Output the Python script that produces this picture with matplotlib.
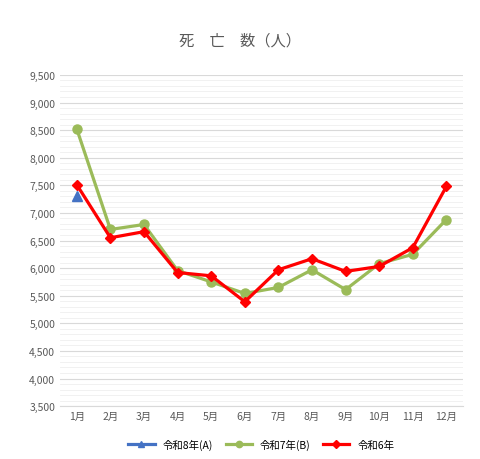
import matplotlib
matplotlib.use("Agg")
import matplotlib.pyplot as plt
from matplotlib.ticker import MultipleLocator, FuncFormatter

plt.rcParams['font.family'] = ['Noto Sans CJK JP', 'DejaVu Sans']

months = ["1月","2月","3月","4月","5月","6月","7月","8月","9月","10月","11月","12月"]
r8 = [7300]
r7 = [8520,6700,6790,5955,5750,5540,5650,5970,5610,6080,6250,6880]
r6 = [7510,6550,6660,5920,5860,5390,5970,6170,5940,6030,6370,7480]

fig = plt.figure(figsize=(4.8,4.6), dpi=100)
ax = fig.add_axes([0.125, 0.115, 0.84, 0.72])
x = list(range(12))
ax.plot(x, r7, color='#9BBB59', lw=2.3, marker='o', ms=6.5, label='令和7年(B)', zorder=3)
ax.plot(x, r6, color='#FF0000', lw=2.3, marker='D', ms=5.5, label='令和6年', zorder=4)
ax.plot(x[:1], r8, color='#4472C4', lw=2.3, marker='^', ms=6.5, label='令和8年(A)', zorder=5)
ax.set_ylim(3500, 9500)
ax.set_xlim(-0.5, 11.5)
ax.yaxis.set_major_locator(MultipleLocator(500))
ax.yaxis.set_minor_locator(MultipleLocator(100))
ax.yaxis.set_major_formatter(FuncFormatter(lambda v,p: f"{int(v):,}"))
ax.grid(axis='y', which='major', color='#D9D9D9', lw=0.8)
ax.grid(axis='y', which='minor', color='#EFEFEF', lw=0.6)
ax.set_axisbelow(True)
ax.set_xticks(x); ax.set_xticklabels(months)
ax.tick_params(labelsize=7.5, colors='#595959', length=0, which='both')
for s in ['top','right','left']:
    ax.spines[s].set_visible(False)
ax.spines['bottom'].set_color('#D9D9D9')
fig.suptitle('死　亡　数（人）', y=0.93, fontsize=11, color='#595959')
h, l = ax.get_legend_handles_labels()
order = [2,0,1]
ax.legend([h[i] for i in order], [l[i] for i in order], loc='upper center',
          bbox_to_anchor=(0.5, -0.07), ncol=3, frameon=False, fontsize=7.5,
          handlelength=2.5, columnspacing=1.2, markerscale=0.7)
fig.savefig('out.png')
